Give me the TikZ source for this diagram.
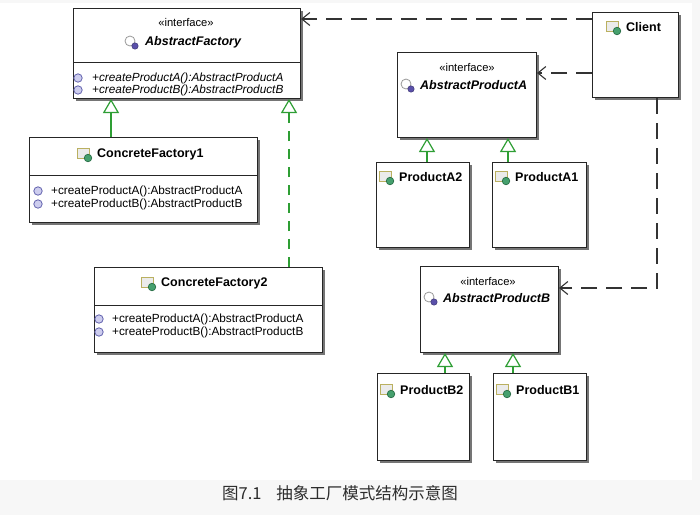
\documentclass[tikz,border=0pt]{standalone}
\usepackage{xcolor}
\usepackage{fontspec}
\setmainfont{Liberation Sans}
\newfontfamily\cjk{Noto Sans CJK SC}
\usepackage{tikz}
\usetikzlibrary{calc}
\usetikzlibrary{arrows.meta}
\usetikzlibrary{shadows}
\usetikzlibrary{positioning}

\definecolor{gengreen}{RGB}{46,158,52}
\definecolor{capbg}{RGB}{247,247,247}
\definecolor{captext}{RGB}{45,45,45}
\definecolor{iconrim}{RGB}{186,176,96}
\definecolor{cgreen}{RGB}{70,160,110}
\definecolor{cdark}{RGB}{30,100,60}
\definecolor{ipurple}{RGB}{90,80,170}
\definecolor{mblue}{RGB}{100,100,175}
\definecolor{mlav}{RGB}{205,205,238}

\tikzset{
 umlbox/.style={rectangle, draw=black!85, line width=1pt, fill=white, anchor=north west, inner sep=0pt,
   drop shadow={shadow xshift=2.5pt, shadow yshift=-2.5pt, fill=black!60, opacity=0.9}},
 stereo/.style={font=\fontsize{11.2}{13}\selectfont, inner sep=0pt},
 clsname/.style={font=\fontsize{12.5}{14}\selectfont\bfseries, anchor=west, inner sep=0pt},
 ifcname/.style={font=\fontsize{12.5}{14}\selectfont\bfseries\itshape, anchor=west, inner sep=0pt},
 oper/.style={font=\fontsize{11.8}{13}\selectfont, anchor=west, inner sep=0pt},
 absoper/.style={font=\fontsize{11.8}{13}\selectfont\itshape, anchor=west, inner sep=0pt},
 realize/.style={draw=gengreen, line width=1.2pt, -{Triangle[open, length=14pt, width=16pt]}},
 dep/.style={draw=black!80, line width=1.1pt, dash pattern=on 16pt off 9pt, -{Straight Barb[length=8pt, width=13pt]}},
 clsicon/.pic={
   \draw[draw=iconrim, fill=black!8, line width=0.8pt] (-7,-6) rectangle (5,4);
   \draw[draw=cdark, fill=cgreen, line width=0.6pt] (4,4) circle (3.8pt);
 },
 ifcicon/.pic={
   \draw[draw=black!40, fill=white, line width=0.8pt] (-1,-1) circle (5pt);
   \draw[draw=ipurple!70!black, fill=ipurple, line width=0.5pt] (4,4) circle (3.2pt);
 },
 opicon/.pic={
   \draw[draw=mblue, fill=mlav, line width=0.8pt] (0,0) circle (4.2pt);
 },
}

\begin{document}
\begin{tikzpicture}[x=1pt, y=-1pt]
 \fill[capbg] (0,0) rectangle (700,515);
 \fill[white] (0,3) rectangle (692,480);

 \node [umlbox, minimum width=227pt, minimum height=90pt] (AF) at (73,8) {};
 \draw [black!85, line width=1pt] (AF.north west) ++(0,54) -- ++(227,0);
 \node [stereo] (AFs) at (186,22) {«interface»};
 \node [ifcname] (AFn) at (145,42) {AbstractFactory};
 \pic at (131,42) {ifcicon};
 \node [absoper] (AFm1) at (92,78) {+createProductA():AbstractProductA};
 \node [absoper] (AFm2) at (92,90) {+createProductB():AbstractProductB};
 \pic at (78,78) {opicon};
 \pic at (78,90) {opicon};

 \node [umlbox, minimum width=228pt, minimum height=85pt] (CF1) at (29,137) {};
 \draw [black!85, line width=1pt] (CF1.north west) ++(0,38) -- ++(228,0);
 \node [clsname] (CF1n) at (97,154) {ConcreteFactory1};
 \pic at (84,154) {clsicon};
 \node [oper] (CF1m1) at (51,191) {+createProductA():AbstractProductA};
 \node [oper] (CF1m2) at (51,204) {+createProductB():AbstractProductB};
 \pic at (38,191) {opicon};
 \pic at (38,204) {opicon};

 \node [umlbox, minimum width=228pt, minimum height=85pt] (CF2) at (94,267) {};
 \draw [black!85, line width=1pt] (CF2.north west) ++(0,38) -- ++(228,0);
 \node [clsname] (CF2n) at (161,283) {ConcreteFactory2};
 \pic at (148,283) {clsicon};
 \node [oper] (CF2m1) at (112,319) {+createProductA():AbstractProductA};
 \node [oper] (CF2m2) at (112,332) {+createProductB():AbstractProductB};
 \pic at (99,319) {opicon};
 \pic at (99,332) {opicon};

 \node [umlbox, minimum width=86pt, minimum height=85pt] (Cl) at (592,12) {};
 \node [clsname] (Cln) at (626,27) {Client};
 \pic at (613,27) {clsicon};

 \node [umlbox, minimum width=139pt, minimum height=85pt] (PA) at (397,52) {};
 \node [stereo] (PAs) at (467,67) {«interface»};
 \node [ifcname] (PAn) at (420,85) {AbstractProductA};
 \pic at (407,85) {ifcicon};

 \node [umlbox, minimum width=93pt, minimum height=85pt] (A2) at (376,162) {};
 \node [clsname] (A2n) at (399,177) {ProductA2};
 \pic at (386,177) {clsicon};
 \node [umlbox, minimum width=94pt, minimum height=85pt] (A1) at (492,162) {};
 \node [clsname] (A1n) at (515,177) {ProductA1};
 \pic at (502,177) {clsicon};

 \node [umlbox, minimum width=138pt, minimum height=86pt] (PB) at (420,266) {};
 \node [stereo] (PBs) at (488,281) {«interface»};
 \node [ifcname] (PBn) at (443,298) {AbstractProductB};
 \pic at (430,298) {ifcicon};

 \node [umlbox, minimum width=92pt, minimum height=87pt] (B2) at (377,373) {};
 \node [clsname] (B2n) at (400,390) {ProductB2};
 \pic at (387,390) {clsicon};
 \node [umlbox, minimum width=93pt, minimum height=87pt] (B1) at (493,373) {};
 \node [clsname] (B1n) at (516,390) {ProductB1};
 \pic at (503,390) {clsicon};

 \draw [realize] (CF1.north -| 111,0) -- (AF.south -| 111,0);
 \draw [realize, dash pattern=on 10pt off 8pt] (CF2.north -| 289,0) -- (AF.south -| 289,0);
 \draw [realize] (A2.north -| 427,0) -- (PA.south -| 427,0);
 \draw [realize] (A1.north -| 508,0) -- (PA.south -| 508,0);
 \draw [realize] (B2.north -| 445,0) -- (PB.south -| 445,0);
 \draw [realize] (B1.north -| 513,0) -- (PB.south -| 513,0);

 \draw [dep] (Cl.west |- 0,19) -- (AF.east |- 0,19);
 \draw [dep] (Cl.west |- 0,73) -- (PA.east |- 0,73);
 \draw [dep] (Cl.south -| 657,0) |- (PB.east |- 0,288);

 \node [anchor=west, inner sep=0pt, text=captext, font=\cjk\fontsize{16.5}{18}\selectfont] (cap) at (222,493) {图7.1\hspace{0.9em}抽象工厂模式结构示意图};
\end{tikzpicture}
\end{document}
